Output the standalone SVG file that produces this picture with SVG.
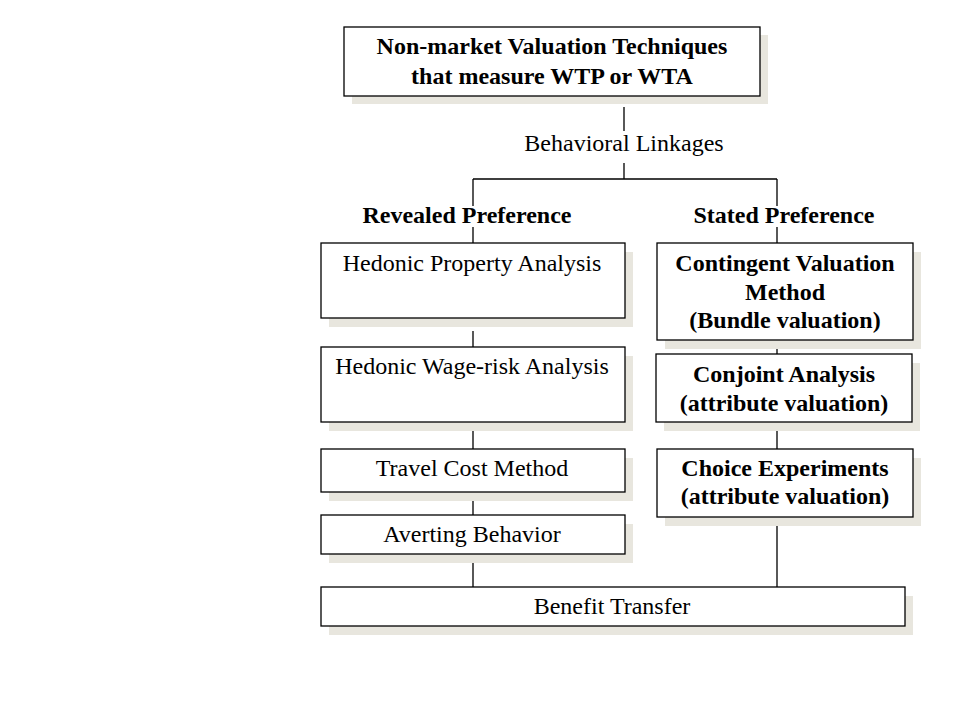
<svg xmlns="http://www.w3.org/2000/svg" width="960" height="720" viewBox="0 0 960 720">
<style>
.box{fill:#fff;stroke:#000;stroke-width:1.3}
.sh{fill:#e8e6de}
.t{font-family:"Liberation Serif","Times New Roman",serif;font-size:24px;fill:#000;text-anchor:middle}
.b{font-weight:bold}
.c{stroke:#000;stroke-width:1.3;fill:none}
</style>
<rect width="960" height="720" fill="#fff"/>
<g id="connectors">
<path class="c" d="M624 107V131M624 163V179M473 179H777M473 179V206M473 227V243M777 179V206M777 227V243M473 331V347M473 431V449M473 500V515M473 563V587M777 348V354M777 431V449M777 526V587"/>
</g>
<g id="n-root">
<rect class="sh" x="352" y="35" width="416" height="69"/>
<rect class="box" x="344" y="27" width="416" height="69"/>
<text class="t b" x="552" y="54">Non-market Valuation Techniques</text>
<text class="t b" x="552" y="84">that measure WTP or WTA</text>
</g>
<g id="n-behavioral">
<text class="t" x="624" y="151">Behavioral Linkages</text>
</g>
<g id="n-revealed">
<text class="t b" x="467" y="223">Revealed Preference</text>
</g>
<g id="n-stated">
<text class="t b" x="784" y="223">Stated Preference</text>
</g>
<g id="n-hedonic-property">
<rect class="sh" x="329" y="252" width="304" height="75"/>
<rect class="box" x="321" y="243" width="304" height="75"/>
<text class="t" x="472" y="271">Hedonic Property Analysis</text>
</g>
<g id="n-hedonic-wage">
<rect class="sh" x="329" y="356" width="304" height="75"/>
<rect class="box" x="321" y="347" width="304" height="75"/>
<text class="t" x="472" y="374">Hedonic Wage-risk Analysis</text>
</g>
<g id="n-travel">
<rect class="sh" x="329" y="458" width="304" height="43"/>
<rect class="box" x="321" y="449" width="304" height="43"/>
<text class="t" x="472" y="476">Travel Cost Method</text>
</g>
<g id="n-averting">
<rect class="sh" x="329" y="524" width="304" height="39"/>
<rect class="box" x="321" y="515" width="304" height="39"/>
<text class="t" x="472" y="542">Averting Behavior</text>
</g>
<g id="n-contingent">
<rect class="sh" x="665" y="252" width="256" height="97"/>
<rect class="box" x="657" y="243" width="256" height="97"/>
<text class="t b" x="785" y="271">Contingent Valuation</text>
<text class="t b" x="785" y="300">Method</text>
<text class="t b" x="785" y="328">(Bundle valuation)</text>
</g>
<g id="n-conjoint">
<rect class="sh" x="664" y="363" width="256" height="68"/>
<rect class="box" x="656" y="354" width="256" height="68"/>
<text class="t b" x="784" y="382">Conjoint Analysis</text>
<text class="t b" x="784" y="411">(attribute valuation)</text>
</g>
<g id="n-choice">
<rect class="sh" x="665" y="458" width="256" height="68"/>
<rect class="box" x="657" y="449" width="256" height="68"/>
<text class="t b" x="785" y="476">Choice Experiments</text>
<text class="t b" x="785" y="504">(attribute valuation)</text>
</g>
<g id="n-benefit">
<rect class="sh" x="329" y="596" width="584" height="39"/>
<rect class="box" x="321" y="587" width="584" height="39"/>
<text class="t" x="612" y="614">Benefit Transfer</text>
</g>
</svg>
